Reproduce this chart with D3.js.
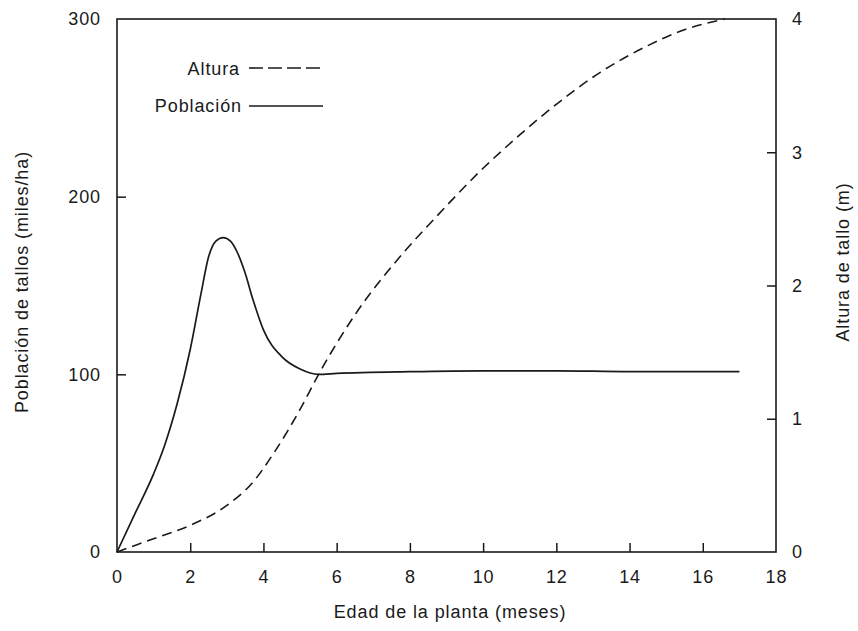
<!DOCTYPE html>
<html lang="en">
<head>
<meta charset="UTF-8">
<title>Población y altura de tallos</title>
<script src="https://cdn.jsdelivr.net/npm/d3@7"></script>
<style>
  body { margin: 0; background: #fff; }
  text { font-family: "Liberation Sans", Arial, sans-serif; fill: #1a1a1a; }
</style>
</head>
<body>
<script>
  // edad (meses) vs población de tallos (miles/ha)
  const popMonths = [0, 0.5, 1, 1.3, 1.65, 2, 2.3, 2.5, 2.7, 2.9, 3.1, 3.3, 3.5, 3.7, 4, 4.5, 5, 5.5, 6, 8, 10, 12, 14, 17]
  const popValues = [0, 22, 44, 60, 84, 114, 146, 166, 175, 177, 175, 168, 157, 143, 125, 110, 103, 100, 100.5, 101.5, 102, 102, 101.5, 101.5]

  // edad (meses) vs altura de tallo (m)
  const hMonths = [0, 1, 2, 3, 3.7, 4.3, 5, 5.5, 6.5, 7.9, 8.6, 10, 11, 12, 13.2, 14.5, 15.5, 16.6]
  const hValues = [0, 0.1, 0.2, 0.35, 0.52, 0.75, 1.07, 1.33, 1.78, 2.27, 2.48, 2.88, 3.13, 3.36, 3.6, 3.8, 3.92, 4.0]

  const xTicks = [0, 2, 4, 6, 8, 10, 12, 14, 16, 18]
  const popTicks = [0, 100, 200, 300]
  const hTicks = [0, 1, 2, 3, 4]

  const W = 858, H = 631
  const margin = {left: 117, right: 82, top: 19, bottom: 79}
  const fs = 18, ls = "0.9px"

  const svg = d3.select("body").append("svg")
      .attr("width", W).attr("height", H)

  const x = d3.scaleLinear().domain([0, 18]).range([margin.left, W - margin.right])
  const yPop = d3.scaleLinear().domain([0, 300]).range([H - margin.bottom, margin.top])
  const yH = d3.scaleLinear().domain([0, 4]).range([H - margin.bottom, margin.top])

  const ink = "#1a1a1a"

  // frame box
  svg.append("rect")
      .attr("x", x(0)).attr("y", yPop(300))
      .attr("width", x(18) - x(0)).attr("height", yPop(0) - yPop(300))
      .attr("fill", "none").attr("stroke", ink).attr("stroke-width", 1.6)

  function styleAxis(g) {
    g.select(".domain").remove()
    g.selectAll(".tick line").attr("stroke", ink).attr("stroke-width", 1.5)
    g.selectAll(".tick text").attr("font-size", fs).attr("letter-spacing", ls).attr("fill", ink)
  }

  svg.append("g")
      .attr("transform", `translate(0,${yPop(0)})`)
      .call(d3.axisBottom(x).tickValues(xTicks).tickSizeInner(-9).tickPadding(18).tickSizeOuter(0))
      .call(styleAxis)
      .call(g => g.selectAll(".tick").filter(d => d === 0 || d === 18).select("line").remove())

  svg.append("g")
      .attr("transform", `translate(${x(0)},0)`)
      .call(d3.axisLeft(yPop).tickValues(popTicks).tickSizeInner(-9).tickPadding(16).tickSizeOuter(0))
      .call(styleAxis)
      .call(g => g.selectAll(".tick").filter(d => d === 0 || d === 300).select("line").remove())

  svg.append("g")
      .attr("transform", `translate(${x(18)},0)`)
      .call(d3.axisRight(yH).tickValues(hTicks).tickFormat(d3.format("d")).tickSizeInner(-9).tickPadding(16).tickSizeOuter(0))
      .call(styleAxis)
      .call(g => g.selectAll(".tick").filter(d => d === 0 || d === 4).select("line").remove())

  // curves
  const popLine = d3.line()
      .x((d, i) => x(popMonths[i]))
      .y(d => yPop(d))
      .curve(d3.curveMonotoneX)

  const hLine = d3.line()
      .x((d, i) => x(hMonths[i]))
      .y(d => yH(d))
      .curve(d3.curveMonotoneX)

  svg.append("path")
      .datum(popValues)
      .attr("d", popLine)
      .attr("fill", "none").attr("stroke", ink).attr("stroke-width", 1.7)

  svg.append("path")
      .datum(hValues)
      .attr("d", hLine)
      .attr("fill", "none").attr("stroke", ink).attr("stroke-width", 1.6)
      .attr("stroke-dasharray", "10,6")

  // legend
  const legend = svg.append("g")
  legend.append("text").attr("x", 240).attr("y", 69).attr("dy", "0.35em")
      .attr("text-anchor", "end").attr("font-size", fs).attr("letter-spacing", ls).text("Altura")
  legend.append("line").attr("x1", 249).attr("x2", 323).attr("y1", 68).attr("y2", 68)
      .attr("stroke", ink).attr("stroke-width", 1.6).attr("stroke-dasharray", "14,5")
  legend.append("text").attr("x", 242).attr("y", 106).attr("dy", "0.35em")
      .attr("text-anchor", "end").attr("font-size", fs).attr("letter-spacing", ls).text("Población")
  legend.append("line").attr("x1", 249).attr("x2", 323).attr("y1", 106).attr("y2", 106)
      .attr("stroke", ink).attr("stroke-width", 1.7)

  // axis titles
  svg.append("text")
      .attr("x", 450).attr("y", 612)
      .attr("text-anchor", "middle").attr("dy", "0.35em").attr("font-size", fs).attr("letter-spacing", ls)
      .text("Edad de la planta (meses)")

  svg.append("text")
      .attr("transform", "translate(22,282) rotate(-90)")
      .attr("text-anchor", "middle").attr("dy", "0.35em").attr("font-size", fs).attr("letter-spacing", ls)
      .text("Población de tallos (miles/ha)")

  svg.append("text")
      .attr("transform", "translate(843,262) rotate(-90)")
      .attr("text-anchor", "middle").attr("dy", "0.35em").attr("font-size", fs).attr("letter-spacing", ls)
      .text("Altura de tallo (m)")
</script>
</body>
</html>
